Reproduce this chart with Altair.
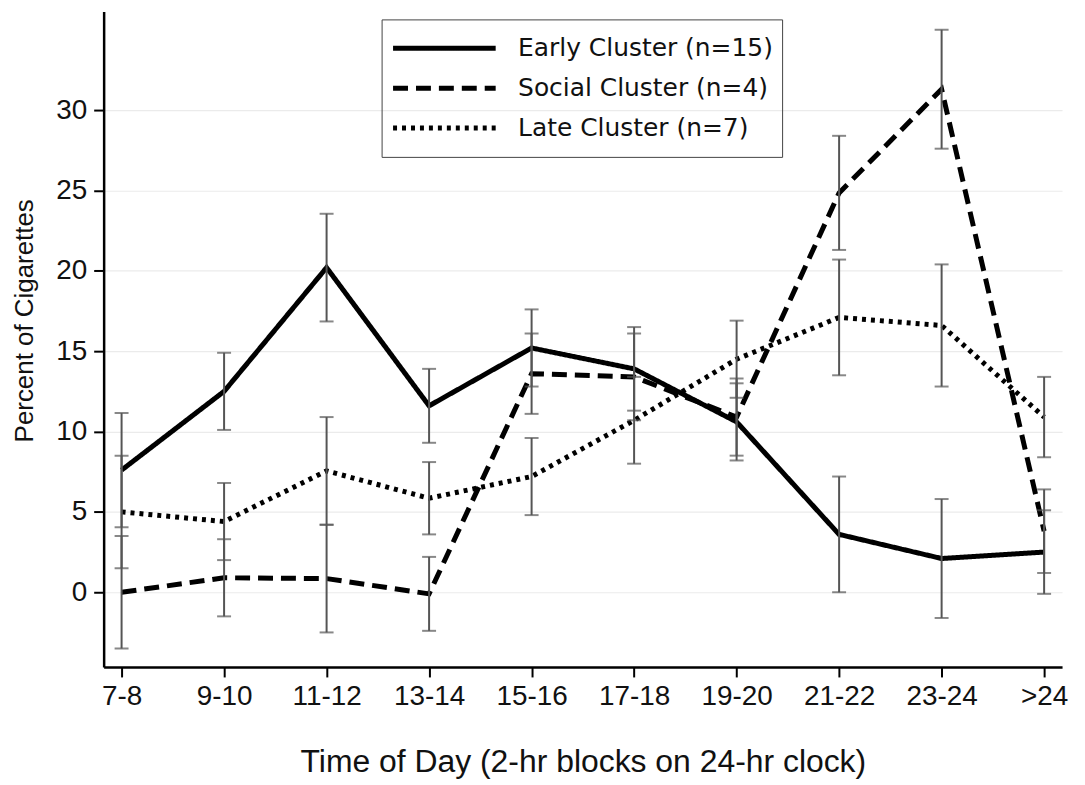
import altair as alt
import pandas as pd

times = ["7-8", "9-10", "11-12", "13-14", "15-16", "17-18", "19-20", "21-22", "23-24", ">24"]
series = ["Early Cluster (n=15)", "Social Cluster (n=4)", "Late Cluster (n=7)"]

early_mean = [7.6, 12.5, 20.2, 11.6, 15.2, 13.9, 10.6, 3.6, 2.1, 2.5]
early_err = [3.55, 2.4, 3.35, 2.3, 2.4, 2.6, 2.4, 3.6, 3.7, 2.6]
social_mean = [0.0, 0.9, 0.85, -0.1, 13.6, 13.4, 10.9, 24.85, 31.3, 3.8]
social_err = [3.5, 2.4, 3.35, 2.3, 2.5, 2.7, 2.4, 3.55, 3.7, 2.6]
late_mean = [5.0, 4.4, 7.55, 5.85, 7.2, 10.7, 14.5, 17.1, 16.6, 10.9]
late_err = [3.5, 2.4, 3.35, 2.25, 2.4, 2.7, 2.4, 3.6, 3.8, 2.5]

y_ticks = [0, 5, 10, 15, 20, 25, 30]

rows = []
for name, means, errs in zip(series, [early_mean, social_mean, late_mean],
                             [early_err, social_err, late_err]):
    for t, m, e in zip(times, means, errs):
        rows.append({"time": t, "series": name, "mean": m, "lo": m - e, "hi": m + e})
df = pd.DataFrame(rows)

x_enc = alt.X("time:N", sort=times,
              scale=alt.Scale(type="point", padding=0.175),
              axis=alt.Axis(title="Time of Day (2-hr blocks on 24-hr clock)",
                            labelAngle=0, grid=False,
                            titleX=481, titleY=105, titleBaseline="alphabetic",
                            titleFont="Liberation Sans", titleFontSize=32,
                            titleFontWeight="normal", titleColor="#111"))
y_scale = alt.Scale(domain=[-4.65, 36.14], nice=False, zero=False)

base = alt.Chart(df)

lines = base.mark_line(color="black", strokeWidth=5, strokeJoin="miter", strokeCap="butt").encode(
    x=x_enc,
    y=alt.Y("mean:Q", scale=y_scale,
            axis=alt.Axis(values=y_ticks, title="Percent of Cigarettes", grid=True,
                          titleX=-71, titleY=310, titleAngle=-90, titleBaseline="alphabetic",
                          titleAlign="center",
                          titleFont="Liberation Sans", titleFontSize=26,
                          titleFontWeight="normal", titleColor="#111")),
    strokeDash=alt.StrokeDash("series:N", sort=series,
                              scale=alt.Scale(domain=series, range=[[1, 0], [15, 8], [4, 5]]),
                              legend=alt.Legend(title=None, orient="none", legendX=279, legendY=8,
                                                symbolType="stroke", symbolSize=10609,
                                                symbolStrokeWidth=5, symbolStrokeColor="black",
                                                clipHeight=40, rowPadding=0, padding=9,
                                                labelOffset=20, labelFont="DejaVu Sans",
                                                labelFontSize=25, labelColor="#111",
                                                labelLimit=400,
                                                strokeColor="#444")),
    detail="series:N",
)

bars = base.mark_rule(color="#555", strokeWidth=2).encode(
    x=alt.X("time:N", sort=times),
    y=alt.Y("lo:Q", scale=y_scale),
    y2="hi:Q",
    detail="series:N",
)
caps_lo = base.mark_tick(color="#555", thickness=2, size=14).encode(
    x=alt.X("time:N", sort=times),
    y=alt.Y("lo:Q", scale=y_scale),
)
caps_hi = base.mark_tick(color="#555", thickness=2, size=14).encode(
    x=alt.X("time:N", sort=times),
    y=alt.Y("hi:Q", scale=y_scale),
)

chart = alt.layer(lines, bars, caps_lo, caps_hi).properties(
    width=962, height=658,
    autosize=alt.AutoSizeParams(type="none"),
    padding={"left": 96, "top": 2, "right": 15, "bottom": 114},
).configure_view(stroke=None).configure_axis(
    domainColor="black", domainWidth=2.5,
    tickColor="black", tickWidth=2, tickSize=10,
    labelFont="Liberation Sans", labelFontSize=28, labelColor="#111",
    labelPadding=7, gridColor="#ebebeb", gridWidth=1.2,
).configure_axisX(labelPadding=6)

chart.save("out.html", embed_options={"renderer": "svg", "actions": False})
